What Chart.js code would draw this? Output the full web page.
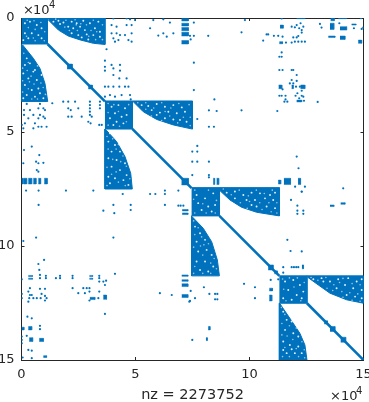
<!DOCTYPE html>
<html>
<head>
<meta charset="utf-8">
<style>
  html, body { margin: 0; padding: 0; background: #fff; }
  canvas { display: block; }
</style>
<script src="https://cdn.jsdelivr.net/npm/chart.js@4"></script>
</head>
<body>
<canvas id="spy" width="369" height="402"></canvas>
<script>
// values are in units of 10^4 (row / column index)
var tickValues = [0, 5, 10, 15];
var xLabel = 'nz = 2273752';

// dense areas, outline
var denseBlocks = [
  [[0,0],[1.14,0],[1.14,1.14],[0,1.14]],
  [[1.15,0],[3.66,0],[3.66,1.16],[3.15,1.11],[2.57,0.96],[2.05,0.79],[1.62,0.53],[1.18,0.09]],
  [[0,1.15],[0,3.66],[1.15,3.66],[1.03,2.87],[0.81,2.21],[0.52,1.77],[0.05,1.18]],
  [[3.66,3.64],[4.86,3.64],[4.86,4.87],[3.66,4.87]],
  [[4.86,3.64],[7.5,3.64],[7.5,4.87],[7.39,4.85],[6.66,4.69],[5.93,4.45],[5.34,4.11],[4.9,3.67]],
  [[3.66,4.87],[3.66,7.5],[4.86,7.5],[4.79,6.81],[4.54,6.08],[4.17,5.42],[3.71,4.91]],
  [[7.46,7.44],[8.68,7.44],[8.68,8.68],[7.46,8.68]],
  [[8.68,7.44],[11.31,7.44],[11.31,8.68],[10.31,8.52],[9.65,8.3],[9.14,7.98],[8.7,7.57]],
  [[7.46,8.68],[7.46,11.31],[8.68,11.31],[8.59,10.61],[8.34,9.81],[7.97,9.22],[7.48,8.71]],
  [[11.31,11.31],[12.52,11.31],[12.52,12.51],[11.31,12.51]],
  [[12.52,11.31],[15,11.31],[15,12.51],[14.26,12.36],[13.53,12.07],[13.02,11.71],[12.55,11.37]],
  [[11.31,12.51],[11.31,15],[12.52,15],[12.43,14.34],[12.21,13.83],[11.77,13.17],[11.34,12.54]]
];

var diagonalParts = [
  [[1.14,1.14],[3.66,3.66]],
  [[4.86,4.86],[7.46,7.46]],
  [[8.68,8.68],[11.31,11.31]],
  [[12.52,12.51],[15,15]]
];

// holes inside the dense areas
var holes = [
  [.15,.23],[.37,.16],[.67,.31],[.88,.45],[.15,.67],[.45,.67],[.74,.75],[.30,.89],[.88,.89],[.08,.97],
  [1.40,.16],[1.62,.12],[1.84,.20],[2.20,.16],[2.42,.23],[2.71,.12],[3.00,.23],[3.37,.16],[1.69,.26],[2.05,.38],[2.27,.45],[2.57,.38],[2.78,.53],[3.22,.45],[3.44,.60],[2.20,.67],[2.49,.75],[2.86,.72],[3.15,.75],[3.44,.82],[2.64,.85],[2.93,.94],
  [.23,1.77],[.15,2.06],[.37,1.99],[.52,2.35],[.08,2.43],[.30,2.65],[.67,2.72],[.15,2.94],[.45,3.16],[.74,3.09],[.23,3.38],[.59,3.45],[.81,3.30],[.08,3.52],[.96,3.52],[.59,2.28],[.88,2.50],
  [3.95,3.89],[4.25,3.82],[4.54,3.96],[4.10,4.18],[4.39,4.33],[3.88,4.40],[4.17,4.55],[4.61,4.25],[4.03,4.69],[4.47,4.62],
  [5.27,3.82],[5.56,3.86],[5.93,3.77],[6.29,3.89],[6.66,3.82],[7.03,3.92],[5.71,4.04],[6.07,4.15],[6.44,4.11],[6.81,4.18],[7.17,4.11],[6.29,4.40],[6.66,4.45],[6.95,4.47],[7.24,4.55],[5.93,4.25],
  [3.88,5.06],[3.81,5.42],[4.10,5.57],[3.95,5.86],[4.32,5.86],[3.81,6.15],[4.17,6.23],[4.54,6.37],[3.95,6.52],[4.32,6.67],[4.61,6.89],[3.81,6.96],[4.10,7.03],[4.47,7.11],[3.88,7.25],[4.69,7.32],
  [7.68,7.76],[8.05,7.91],[8.41,7.69],[7.75,8.12],[8.19,8.27],[8.49,8.20],[7.90,8.42],[8.34,8.49],
  [9.0,7.66],[9.36,7.61],[9.73,7.76],[10.09,7.66],[10.46,7.69],[10.90,7.76],[11.12,7.66],[9.36,7.91],[9.87,7.98],[10.24,7.98],[10.68,7.91],[11.04,7.98],[10.31,8.27],[10.75,8.27],[11.12,8.34],[10.09,8.20],
  [7.61,9.15],[7.83,9.44],[7.68,9.81],[8.05,9.73],[7.75,10.24],[8.12,10.17],[8.34,10.39],[7.68,10.68],[8.05,10.68],[8.41,10.90],[7.83,11.05],[8.19,11.12],
  [11.56,11.56],[11.92,11.49],[12.21,11.71],[11.70,11.93],[12.07,12.15],[12.36,12.0],[11.48,12.29],[11.85,12.36],[12.29,12.29],
  [12.8,11.46],[13.16,11.41],[13.53,11.56],[13.89,11.46],[14.33,11.41],[14.70,11.56],[14.92,11.46],[13.82,11.85],[14.19,11.71],[14.55,11.85],[14.92,11.93],[14.26,12.15],[14.63,12.22],[14.92,12.29],[13.24,11.56],
  [11.48,12.88],[11.63,13.24],[11.85,13.31],[11.56,13.68],[11.92,13.83],[12.14,13.97],[11.48,14.19],[11.77,14.34],[12.14,14.41],[11.63,14.70],[11.99,14.70],[12.29,14.70],[11.48,14.56],[11.85,14.53]
];

// smaller, paler holes
var faintHoles = [
  [.25,.1],[.55,.12],[.85,.2],[1.02,.6],[.6,.5],[.3,.42],[.22,.8],[.6,1.0],[1.0,1.0],[.52,.88],
  [1.5,.05],[1.95,.1],[2.35,.08],[2.6,.25],[2.85,.3],[3.15,.1],[3.55,.3],[3.3,.6],[3.05,.55],[2.45,.55],[2.1,.55],[1.9,.4],[3.55,.95],[2.95,.8],[3.25,.95],[2.4,.3],
  [.1,1.55],[.3,1.95],[.05,2.2],[.25,2.3],[.7,2.1],[.42,2.55],[.05,2.75],[.55,2.9],[.85,2.85],[.3,3.1],[.05,3.25],[.95,3.05],[.45,3.55],[.7,3.55],[.35,2.8],[1.05,3.35],
  [3.8,3.75],[4.05,3.8],[4.7,3.8],[3.8,4.15],[4.25,4.1],[4.6,4.55],[3.8,4.7],[4.3,4.75],
  [5.1,3.72],[5.45,3.72],[5.8,3.95],[6.15,3.72],[6.55,3.95],[6.9,3.75],[7.35,3.8],[5.7,4.3],[6.15,4.5],[6.5,4.3],[7.1,4.35],[7.4,4.35],[6.85,4.6],[7.4,4.72],[5.45,4.0],[6.3,4.1],
  [3.75,5.2],[4.0,5.3],[3.8,5.75],[4.15,5.75],[4.45,6.05],[4.0,6.2],[4.35,6.3],[3.75,6.55],[4.6,6.5],[4.15,6.75],[4.75,7.05],[3.95,6.85],[3.75,7.35],[4.25,7.2],[4.55,7.35],[4.25,5.55],
  [7.6,7.55],[8.2,7.55],[7.55,7.95],[7.95,8.15],[8.55,8.0],[7.6,8.55],[8.1,8.55],[8.5,8.55],
  [8.85,7.5],[9.2,7.75],[9.55,7.55],[9.95,7.8],[10.3,7.55],[10.65,7.7],[11.0,7.55],[9.6,8.1],[10.0,8.05],[10.45,8.1],[10.85,8.1],[11.2,8.1],[10.55,8.4],[10.95,8.5],[11.2,8.55],[9.9,8.35],
  [7.55,8.9],[7.75,9.2],[7.6,9.5],[7.9,9.6],[8.2,9.9],[7.55,10.05],[7.95,10.4],[8.3,10.75],[7.6,10.9],[8.55,11.0],[7.95,11.2],[8.45,10.55],[7.85,10.0],[8.0,9.95],[7.55,11.2],[8.3,11.2],
  [11.45,11.45],[11.75,11.4],[12.1,11.4],[12.4,11.6],[11.5,11.9],[11.95,11.8],[12.25,12.4],[11.6,12.4],
  [12.7,11.38],[13.0,11.5],[13.35,11.38],[13.7,11.7],[14.1,11.42],[14.5,11.65],[14.85,11.7],[13.65,11.95],[14.05,12.0],[14.4,12.05],[14.75,12.1],[14.1,12.25],[14.5,12.38],[14.85,12.42],[13.95,11.6],[13.4,11.85],
  [11.4,12.7],[11.55,13.0],[11.75,13.5],[11.42,13.4],[11.65,13.95],[12.05,13.6],[11.42,13.9],[11.9,14.1],[12.3,14.2],[11.55,14.45],[12.05,14.5],[12.4,14.55],[11.75,14.85],[12.15,14.85],[11.45,14.85],[12.42,14.9]
];

// small solid patches: x0, y0, x1, y1
var patches = [
  [2.0,2.02,2.23,2.24],[2.93,2.94,3.11,3.11],[7.02,7.03,7.32,7.32],[10.82,10.83,11.04,11.05],[11.09,11.09,11.22,11.22],
  [13.28,13.28,13.42,13.42],[13.53,13.53,13.75,13.75],[14.0,14.0,14.22,14.22],[14.92,14.92,15,15],
  [7.02,.02,7.32,.13],[7.02,.23,7.32,.35],[7.02,.42,7.32,.56],[7.02,.63,7.32,.79],[7.02,.99,7.32,1.14],
  [0,7.03,.08,7.28],[.11,7.03,.23,7.28],[.30,7.03,.45,7.28],[.52,7.03,.64,7.28],[.74,7.03,.84,7.28],[1.0,7.03,1.13,7.28],
  [.30,11.29,.48,11.34],[.30,11.41,.48,11.46],[2.98,11.29,3.12,11.34],[2.98,11.41,3.12,11.46],
  [3.0,12.25,3.22,12.35],[3.59,12.15,3.73,12.34],
  [0,13.56,.11,13.68],[.30,13.53,.45,13.68],[.34,14.02,.49,14.19],[.78,14.05,.96,14.19],[.96,14.81,1.10,14.89],
  [12.07,0,12.43,.03],[13.56,0,13.72,.12],[13.9,0,14.26,.03],[11.34,.31,11.48,.45],[13.53,.23,13.70,.50],[13.97,.38,14.26,.53],[14.48,.26,14.67,.31],
  [13.46,.79,13.75,.85],[13.97,.79,14.19,.94],[11.31,1.04,11.45,1.13],[14.77,.97,14.92,1.11],
  [11.28,2.94,11.42,3.10],[11.85,2.94,11.92,3.10],[12.24,2.94,12.43,3.10],[12.07,3.60,12.29,3.68],
  [8.41,7.03,8.47,7.30],[8.56,7.03,8.65,7.30],[11.26,7.11,11.37,7.28],[11.51,7.03,11.80,7.30],[12.13,7.03,12.24,7.30],
  [13.53,8.20,13.70,8.27],[14.0,8.10,14.19,8.17],[12.30,10.83,12.37,11.0],[10.87,11.85,11.01,11.97],[10.87,12.15,10.98,12.41],
  [7.03,11.27,7.30,11.33],[7.03,11.48,7.30,11.55],[7.03,11.66,7.30,11.78],[7.03,12.13,7.30,12.26],[7.05,8.40,7.30,8.46],[7.05,8.55,7.30,8.62],
  [8.19,13.53,8.27,13.68],[8.09,14.02,8.15,14.15]
];

// single nonzeros outside the dense areas
var scattered = [
  [4.03,.02],[4.61,.02],[4.76,.06],[3.95,.31],[4.17,.38],[4.61,.31],[4.83,.31],[3.95,.67],[4.17,.67],[4.32,.75],[4.54,.75],[4.83,.67],[4.03,.89],[4.25,.97],[4.69,.97],[4.83,1.04],[4.10,1.04],[3.73,1.37],[4.98,.09],[5.78,.09],[6.22,.06],[6.51,.20],[5.64,.45],[6.22,.67],[6.66,.67],[6.0,.77],[6.37,.82],
  [3.66,1.87],[3.66,2.14],[3.66,2.31],[3.95,2.06],[4.03,2.21],[4.32,2.06],[4.32,2.31],[4.03,2.50],[4.29,2.65],[4.61,2.65],
  [3.66,3.01],[3.81,3.01],[4.03,3.01],[4.29,3.01],[4.54,3.01],[4.69,3.01],[4.10,3.45],[4.39,3.38],[4.76,3.38],[3.66,3.45],[3.88,3.38],[4.79,3.57],
  [.23,3.77],[.81,3.77],[1.35,3.74],[.11,4.04],[.37,4.04],[.74,3.96],[.96,3.96],[1.03,4.04],[.11,4.25],[.52,4.25],[.81,4.25],[.96,4.33],[.30,4.40],[.74,4.40],[1.03,4.40],[.01,4.69],[.15,4.62],[.59,4.62],[.74,4.77],[.88,4.77],[1.10,4.77],[.08,4.84],[.52,4.84],
  [1.83,3.67],[2.05,3.67],[2.35,3.67],[3.0,3.67],[3.0,3.82],[3.0,3.96],[3.0,4.11],[3.44,3.67],[3.44,3.82],[3.44,3.96],[2.05,3.96],[2.16,4.04],[2.49,3.96],[2.05,4.33],[2.20,4.33],[2.64,4.33],[3.0,4.25],[3.08,4.33],[2.93,4.55],[3.03,4.62],[3.41,4.69],[3.52,4.69],
  [.45,5.64],[.11,5.79],[.78,6.01],[.64,6.30],[.08,6.37],[.74,6.37],[.67,6.67],[.74,6.74],[.96,6.35],
  [.20,7.57],[.75,7.57],[1.95,7.57],[3.15,7.57],[4.44,7.72],[5.64,7.72],[5.87,7.72],[6.29,7.57],[6.29,7.72],[6.88,7.57],
  [.75,8.20],[4.03,8.20],[4.79,8.20],[4.79,8.42],[3.59,8.45],[4.07,8.56],[6.29,8.20],[6.88,8.23],[6.98,8.23],[7.1,8.23],
  [.64,9.63],[.08,9.78],[4.03,9.63],[.74,10.79],[.99,10.61],[.78,11.05],[4.10,11.22],[.81,11.27],[1.07,11.31],[1.07,11.41],[1.69,11.31],[1.69,11.41],[1.51,11.41],[2.24,11.31],[2.24,11.41],[3.41,11.31],[3.41,11.41],[3.41,11.56],[3.71,11.52],[3.59,11.56],[.01,11.46],[.81,11.41],
  [2.24,11.85],[2.71,11.85],[2.86,11.85],[2.98,11.85],[.37,11.85],[.30,12.0],[.81,11.88],[1.03,11.88],[2.49,12.07],[2.78,12.07],[2.98,12.0],[3.41,12.0],[3.66,11.71],[6.07,12.07],[6.59,12.15],[.01,12.10],[.37,12.15],[.45,12.15],[.88,12.10],[1.03,12.19],[.84,12.29],[1.10,12.29],[.01,12.29],[.34,12.29],[.52,12.29],[.67,12.29],[2.98,12.39],[3.37,12.29],[7.36,12.44],[.30,12.44],[1.03,12.39],[3.66,12.98],[.26,13.10],[.45,13.17],
  [.81,13.50],[.81,13.65],[.23,13.94],[.01,13.97],[.01,14.12],[.01,14.27],[.30,14.56],[.45,14.59],[.05,14.89],[.45,14.92],
  [7.56,.20],[9.80,.09],[11.41,.02],[14.89,.01],[11.85,.38],[11.99,.41],[12.07,.31],[12.18,.45],[12.24,.23],[12.36,.38],[12.29,.53],[13.09,.26],[13.16,.42],[13.94,.23],[14.58,.45],[14.92,.48],[14.99,.42],
  [7.39,.78],[7.56,.78],[8.19,.78],[9.65,.63],[10.75,.72],[10.82,.72],[11.07,.78],[11.26,.78],[11.45,.82],[11.92,.85],[12.07,.85],[12.14,.79],[12.29,.64],
  [7.42,.94],[10.60,.99],[11.60,1.08],[11.85,1.08],[11.99,1.04],[12.14,1.04],[12.29,1.04],[12.43,1.04],
  [7.56,1.96],[11.41,1.51],[11.31,1.70],[11.41,1.70],[11.31,2.28],[11.45,2.28],[11.85,2.28],[11.92,2.28],[12.07,2.50],[11.85,2.72],[12.07,2.76],[11.77,2.87],[11.92,2.87],[7.56,3.16],
  [11.45,3.13],[12.04,3.01],[12.21,3.01],[12.29,3.19],[11.31,3.41],[11.41,3.41],[11.58,3.41],[12.02,3.41],[12.10,3.30],[12.29,3.41],[12.36,3.45],
  [8.46,3.57],[11.58,3.57],[11.53,3.67],[11.66,3.67],[12.39,3.63],[12.99,3.68],[12.18,3.52],
  [8.22,4.05],[8.56,4.08],[9.65,4.05],[11.22,4.08],[7.71,4.43],[8.22,4.77],[8.44,4.77],[7.71,5.61],[7.49,5.86],[7.71,5.86],[7.49,6.30],[7.71,6.30],[8.22,6.30],[12.07,6.08],[12.15,6.59],[7.49,6.89],[8.22,6.89],[8.22,6.99],
  [12.0,7.40],[12.43,7.40],[12.29,7.62],[14.11,7.47],
  [11.82,7.98],[12.29,7.61],[12.10,8.23],[12.10,8.45],[12.10,8.59],[12.36,8.45],[12.36,8.59],[11.66,9.73],[11.80,10.22],[12.29,10.24],[11.48,10.93],[11.85,10.93],[11.95,10.93],[12.05,10.93],[12.14,10.93],[11.48,11.17],[11.26,11.46],[10.93,11.49],
  [9.76,11.66],[10.24,11.81],[10.24,12.29],[7.42,11.97],[8.0,11.81],[8.24,12.10],[8.49,12.10],[8.59,12.10],[7.61,12.29],[7.39,12.41],[8.49,12.34],[8.59,12.34],[7.49,14.12]
];

var spyBlue = '#0072BD';
var axisInk = '#262626';
var datasets = [];

function toPoints(list) {
  return list.map(function (p) { return { x: p[0], y: p[1] }; });
}

// chart.js paints the first dataset last, so the top layer goes first
datasets.push({ data: toPoints(scattered), showLine: false, pointRadius: 1.1, pointBorderWidth: 0, backgroundColor: spyBlue });
patches.forEach(function (r) {
  var outline = [[r[0], r[1]], [r[2], r[1]], [r[2], r[3]], [r[0], r[3]]];
  datasets.push({ data: toPoints(outline), showLine: true, fill: 'shape', tension: 0, pointRadius: 0,
    backgroundColor: spyBlue, borderColor: spyBlue, borderWidth: 0.5 });
});
datasets.push({ data: toPoints(holes), showLine: false, pointRadius: 0.95, pointBorderWidth: 0, backgroundColor: 'rgba(255,255,255,0.9)' });
datasets.push({ data: toPoints(faintHoles), showLine: false, pointRadius: 0.8, pointBorderWidth: 0, backgroundColor: 'rgba(255,255,255,0.6)' });
diagonalParts.forEach(function (d) {
  datasets.push({ data: toPoints(d), showLine: true, pointRadius: 0, borderColor: spyBlue, borderWidth: 2.6 });
});
denseBlocks.forEach(function (b) {
  datasets.push({ data: toPoints(b), showLine: true, fill: 'shape', tension: 0, pointRadius: 0,
    backgroundColor: spyBlue, borderColor: spyBlue, borderWidth: 1 });
});

function fixedTicks(scale) {
  scale.ticks = tickValues.map(function (v) { return { value: v }; });
}

function axis(position, showLabels, fitSize) {
  return {
    type: 'linear', position: position, min: 0, max: 15,
    reverse: position === 'left' || position === 'right',
    afterBuildTicks: fixedTicks,
    afterFit: function (s) {
      if (s.isHorizontal()) { s.height = fitSize; } else { s.width = fitSize; }
      s.paddingLeft = 0; s.paddingRight = 0; s.paddingTop = 0; s.paddingBottom = 0;
    },
    grid: { drawOnChartArea: false, drawTicks: true, tickLength: -3, tickColor: axisInk, tickWidth: 1 },
    border: { display: true, color: axisInk, width: 1 },
    ticks: {
      display: showLabels, color: axisInk, padding: 10, maxRotation: 0, autoSkip: false,
      font: { family: 'DejaVu Sans', size: 13 }
    }
  };
}

// x10^4 marks and their exponents
var exponentMarks = {
  id: 'exponentMarks',
  afterDraw: function (chart) {
    var c = chart.ctx;
    c.save();
    c.fillStyle = axisInk;
    c.textBaseline = 'alphabetic';
    c.font = '13px "DejaVu Sans"';
    c.fillText('×', 23, 14);
    c.fillText('10', 33, 14);
    c.fillText('×', 330, 400);
    c.fillText('10', 341, 400);
    c.font = '10px "DejaVu Sans"';
    c.fillText('4', 49, 8);
    c.fillText('4', 356, 394);
    c.restore();
  }
};

var xScale = axis('bottom', true, 42);
xScale.title = { display: true, text: xLabel, color: axisInk, padding: { top: 0, bottom: -2 }, font: { family: 'DejaVu Sans', size: 14.5 } };

new Chart(document.getElementById('spy'), {
  type: 'scatter',
  data: { datasets: datasets },
  plugins: [exponentMarks],
  options: {
    responsive: false,
    animation: false,
    layout: { padding: { left: 0, top: 18, right: 5.5, bottom: 0 } },
    plugins: { legend: { display: false }, tooltip: { enabled: false } },
    scales: {
      x: xScale,
      y: axis('left', true, 21.5),
      xTop: axis('top', false, 0),
      yRight: axis('right', false, 0)
    }
  }
});
</script>
</body>
</html>
